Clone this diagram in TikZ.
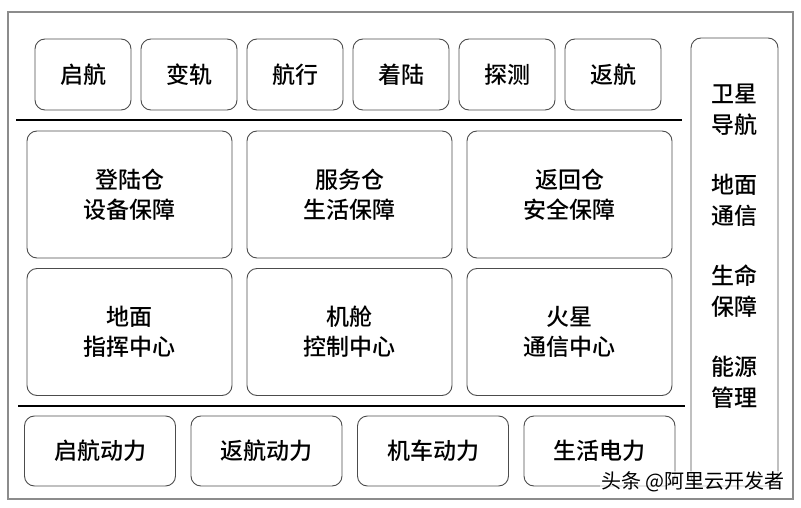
\documentclass[tikz,border=0pt]{standalone}
\usepackage{fontspec}
\setmainfont{Noto Sans CJK SC}[BoldFont={Noto Sans CJK SC Medium}]
\usetikzlibrary{positioning}

\tikzset{
  blk/.style={draw=black!70, line width=0.9pt, rounded corners=10pt, align=center,
    font=\bfseries\fontsize{23}{30}\selectfont},
  phase/.style={blk, minimum width=96pt, minimum height=71pt},
  cabin/.style={blk, minimum width=205pt, minimum height=127pt},
  power/.style={blk, minimum width=151pt, minimum height=70pt},
  sep/.style={black, line width=1.3pt},
}

\begin{document}
\begin{tikzpicture}[x=1pt, y=-1pt, node distance=106pt and 106pt, on grid]
  \useasboundingbox (0,0) rectangle (801,508);
  \draw[black!45, line width=1.4pt] (8,12) rectangle (793,499);
  % flight phases
  \node[phase] (qh) at (83,74.5) {启航};
  \node[phase] (bg) [right=of qh] {变轨};
  \node[phase] (hx) [right=of bg] {航行};
  \node[phase] (zl) [right=of hx] {着陆};
  \node[phase] (tc) [right=of zl] {探测};
  \node[phase] (fh) [right=of tc] {返航};
  \draw[sep] (16,120) -- (682,120);
  % cabins and centres
  \node[cabin] (dlc) at (129.5,194.5) {登陆仓\\设备保障};
  \node[cabin] (fwc) [right=220pt of dlc] {服务仓\\生活保障};
  \node[cabin] (fhc) [right=220pt of fwc] {返回仓\\安全保障};
  \node[cabin] (dmzx) [below=137.5pt of dlc] {地面\\指挥中心};
  \node[cabin] (jczx) [right=220pt of dmzx] {机舱\\控制中心};
  \node[cabin] (hxzx) [right=220pt of jczx] {火星\\通信中心};
  \draw[sep] (18,406) -- (685,406);
  % power
  \node[power] (qhdl) at (100,451) {启航动力};
  \node[power] (fhdl) [right=166.5pt of qhdl] {返航动力};
  \node[power] (jcdl) [right=166.5pt of fhdl] {机车动力};
  \node[power] (shdl) [right=166.5pt of jcdl] {生活电力};
  % side column
  \node[blk, minimum width=87pt, minimum height=448pt] (side) at (734.5,262) {};
  \node[font=\bfseries\fontsize{23}{31}\selectfont, align=center] (sidetxt) at (734.5,246.5)
    {卫星\\导航\\[29pt]地面\\通信\\[29pt]生命\\保障\\[29pt]能源\\管理};
  \node[font=\fontsize{20}{24}\selectfont, fill=white, fill opacity=0.6, text opacity=1,
    inner sep=1pt] (wm) at (693,482) {头条 @阿里云开发者};
\end{tikzpicture}
\end{document}
